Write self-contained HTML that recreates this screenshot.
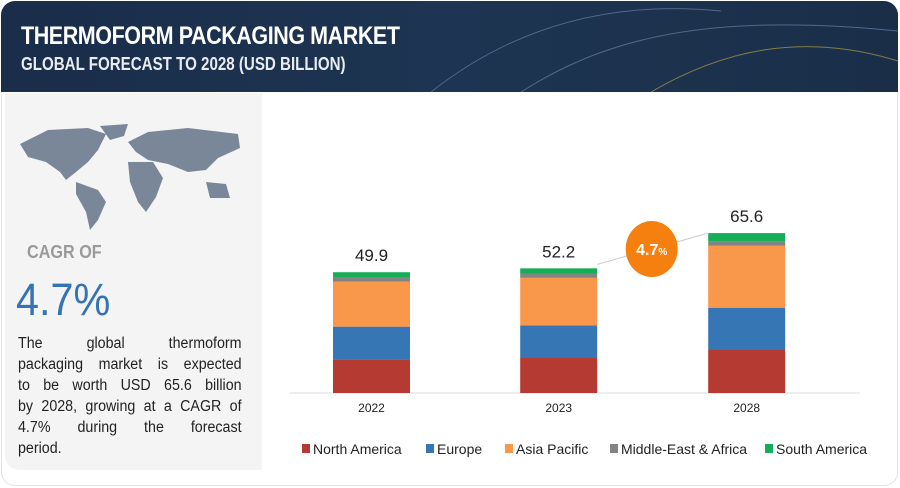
<!DOCTYPE html>
<html><head><meta charset="utf-8"><style>
*{margin:0;padding:0;box-sizing:border-box}
body{width:900px;height:488px;background:#fff;font-family:"Liberation Sans",sans-serif;position:relative;overflow:hidden}
#frame{position:absolute;left:1px;top:1px;width:897px;height:485px;border:1px solid #e4e4e4;border-radius:14px}
#header{position:absolute;left:1px;top:1px;width:897px;height:91px;border-radius:14px 14px 0 0;background:linear-gradient(90deg,#1a2d4a,#1d3552 50%,#1a2e48)}
#title{position:absolute;left:21px;top:22px;color:#fff;font-weight:bold;font-size:25px;letter-spacing:-0.5px;transform:scaleX(0.86);transform-origin:left;white-space:nowrap}
#subtitle{position:absolute;left:21px;top:54px;color:#e8ecf0;font-size:18px;font-weight:bold;transform:scaleX(0.84);transform-origin:left;white-space:nowrap}
#left{position:absolute;left:5px;top:93px;width:257px;height:377px;background:#f4f4f4;border-radius:0 0 0 14px}
#cagr-of{position:absolute;left:27px;top:242px;font-size:18px;font-weight:bold;color:#9a9a9a;transform:scaleX(0.9);transform-origin:left}
#cagr{position:absolute;left:16px;top:274px;font-size:45px;color:#3574b4;transform:scaleX(0.92);transform-origin:left}
#desc{position:absolute;left:18px;top:333px;width:224px;font-size:15.5px;line-height:21px;color:#222}
#desc div{text-align:justify;text-align-last:justify;white-space:nowrap;transform:scaleX(0.92);transform-origin:left;width:243px}
#desc div.last{text-align-last:left}
</style></head><body>
<div id="frame"></div>
<div id="header">
<svg width="897" height="91" style="position:absolute;left:0;top:0">
<path d="M430 91 C520 20 620 0 720 10" stroke="#4c6a8a" fill="none" stroke-width="1"/>
<path d="M520 91 C600 40 700 10 897 30" stroke="#4c6a8a" fill="none" stroke-width="1"/>
<path d="M650 91 C720 50 800 30 897 60" stroke="#c9b04a" fill="none" stroke-width="1" opacity="0.6"/>
</svg>
</div>
<div id="title">THERMOFORM PACKAGING MARKET</div>
<div id="subtitle">GLOBAL FORECAST TO 2028 (USD BILLION)</div>
<div id="left"></div>
<svg style="position:absolute;left:18px;top:122px" width="230" height="110">
<g fill="#7a8799">
<path d="M2 22 L30 8 L70 6 L88 12 L80 28 L70 40 L58 50 L48 58 L42 50 L28 40 L10 35 Z"/>
<path d="M82 4 L110 2 L106 14 L92 18 Z"/>
<path d="M58 60 L80 68 L88 80 L80 98 L72 108 L68 90 L58 72 Z"/>
<path d="M110 20 L130 10 L170 6 L220 12 L222 26 L200 36 L188 48 L170 50 L150 42 L130 38 L118 30 Z"/>
<path d="M110 40 L135 40 L145 56 L138 75 L128 90 L120 80 L112 60 Z"/>
<path d="M188 60 L208 62 L212 76 L192 76 Z"/>
</g></svg>
<div id="cagr-of">CAGR OF</div>
<div id="cagr">4.7%</div>
<div id="desc">
<div>The global thermoform</div>
<div>packaging market is expected</div>
<div>to be worth USD 65.6 billion</div>
<div>by 2028, growing at a CAGR of</div>
<div>4.7% during the forecast</div>
<div class="last">period.</div>
</div>
<svg id="chart" width="900" height="488" style="position:absolute;left:0;top:0"></svg>
<script>
const years=["2022","2023","2028"];
const totals=["49.9","52.2","65.6"];
const northAmerica=[13.6,14.4,17.7];
const europe=[13.7,13.4,17.4];
const asiaPacific=[18.5,19.6,25.5];
const middleEastAfrica=[1.6,1.6,1.9];
const southAmerica=[2.3,2.3,3.3];
const seriesNames=["North America","Europe","Asia Pacific","Middle-East & Africa","South America"];
const colors=["#b53a32","#3676b4","#f9974a","#838383","#15ad55"];
const series=[northAmerica,europe,asiaPacific,middleEastAfrica,southAmerica];
const NS="http://www.w3.org/2000/svg";
const svg=document.getElementById('chart');
const base=393, scale=2.43, barW=77;
const centers=[371.5,558.7,746.7];
const xPos=i=>centers[i];
const yPos=v=>base-v*scale;
function mk(t,a){const e=document.createElementNS(NS,t);for(const k in a)e.setAttribute(k,a[k]);svg.appendChild(e);return e;}
const ax=mk('line',{x1:290,x2:860,y1:base,y2:base,stroke:'#ddd'});


const tops=[];
years.forEach((y,i)=>{
  let cum=0;
  series.forEach((s,k)=>{
    const r=mk('rect',{x:xPos(i)-barW/2,y:yPos(cum+s[i]),width:barW,height:s[i]*scale,fill:colors[k]});
    
    
    cum+=s[i];
  });
  tops.push(yPos(cum));
  const tv=mk('text',{x:xPos(i),y:yPos(cum)-11,'text-anchor':'middle','font-size':17,fill:'#222'});
  tv.textContent=totals[i];
  
  
  const tl=mk('text',{x:xPos(i),y:base+19,'text-anchor':'middle','font-size':12,fill:'#222'});
  tl.textContent=y;
  
  
});
const arr=mk('line',{x1:xPos(1)+barW/2,y1:tops[1]-4,x2:xPos(2)-barW/2,y2:tops[2],stroke:'#ccc','stroke-width':1});


const bub=mk('ellipse',{cx:651.7,cy:249,rx:26,ry:28,fill:'#f57f0f'});


const bt=mk('text',{x:651.7,y:255,'text-anchor':'middle','font-size':16,'font-weight':'bold',fill:'#fff'});
bt.innerHTML='4.7<tspan font-size="10">%</tspan>';


const lx=[302,426,505,610,765];
seriesNames.forEach((n,k)=>{
  const g=mk('g',{});
  
  
  const r=document.createElementNS(NS,'rect');
  r.setAttribute('x',lx[k]);r.setAttribute('y',444);r.setAttribute('width',8);r.setAttribute('height',9);r.setAttribute('fill',colors[k]);
  g.appendChild(r);
  const t=document.createElementNS(NS,'text');
  t.setAttribute('x',lx[k]+11);t.setAttribute('y',454);t.setAttribute('font-size',14);t.setAttribute('fill','#222');
  t.textContent=n;g.appendChild(t);
});
</script>
</body></html>
